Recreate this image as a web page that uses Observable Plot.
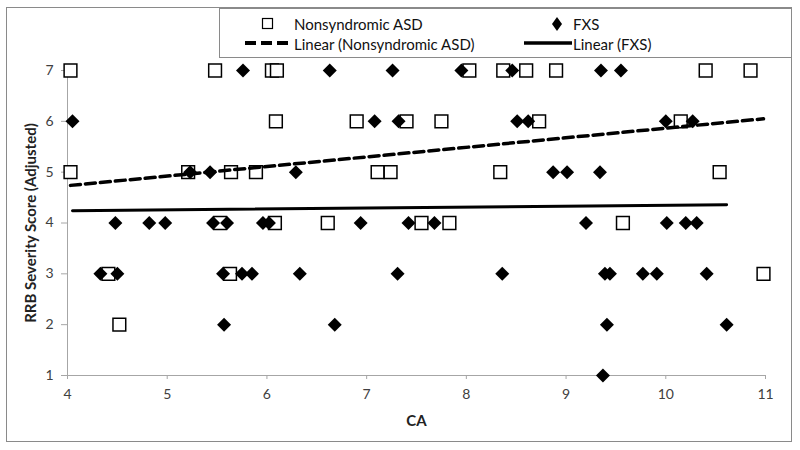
<!DOCTYPE html>
<html>
<head>
<meta charset="utf-8">
<script src="https://cdn.jsdelivr.net/npm/d3@7"></script>
<script src="https://cdn.jsdelivr.net/npm/@observablehq/plot@0.6"></script>
<style>
  html, body { margin: 0; padding: 0; background: #fff; }
  #wrap { position: relative; width: 800px; height: 450px; overflow: hidden; font-family: Lato, "Open Sans", sans-serif; }
  #frame { position: absolute; left: 6px; top: 7px; width: 784px; height: 433px; border: 1.5px solid #8a8a8a; pointer-events: none; }
  #legend { position: absolute; left: 219px; top: 8px; width: 571px; height: 48px; border: 1px solid #8a8a8a; border-right: none; background: #fff; }
  .li { position: absolute; font-size: 15px; color: #111; white-space: nowrap; line-height: 18px; }
  .ic { position: absolute; }
  svg [aria-label="y-axis label"] text, svg [aria-label="x-axis label"] text,
  svg [aria-label="y-axis label"], svg [aria-label="x-axis label"] { font-weight: bold; font-size: 15px; fill: #222; }
</style>
</head>
<body>
<div id="wrap"></div>
<script>
// ---- data ----
const asdCA = [4.03,5.48,6.05,6.10,8.03,8.37,8.60,8.90,10.40,10.85,
               6.09,6.90,7.40,7.75,8.73,10.15,
               4.03,5.21,5.64,5.89,7.11,7.24,8.34,10.54,
               5.53,6.08,6.61,7.55,7.83,9.57,
               4.41,5.63,10.98,
               4.52];
const asdScore = [7,7,7,7,7,7,7,7,7,7,
                  6,6,6,6,6,6,
                  5,5,5,5,5,5,5,5,
                  4,4,4,4,4,4,
                  3,3,3,
                  2];
const fxsCA = [5.76,6.63,7.26,7.95,8.46,9.35,9.55,
               4.05,7.08,7.32,8.51,8.62,10.00,10.27,
               5.23,5.43,6.29,8.87,9.01,9.34,
               4.48,4.82,4.98,5.46,5.60,5.96,6.02,6.94,7.42,7.68,9.20,10.01,10.20,10.31,
               4.33,4.50,5.56,5.75,5.85,6.33,7.31,8.36,9.39,9.44,9.77,9.91,10.41,
               5.57,6.68,9.41,10.61,
               9.37];
const fxsScore = [7,7,7,7,7,7,7,
                  6,6,6,6,6,6,6,
                  5,5,5,5,5,5,
                  4,4,4,4,4,4,4,4,4,4,4,4,4,4,
                  3,3,3,3,3,3,3,3,3,3,3,3,3,
                  2,2,2,2,
                  1];
// trendline endpoints as drawn in the reference
const asdTrendCA = [4.03, 10.98];
const asdTrendScore = [4.74, 6.05];
const fxsTrendCA = [4.05, 10.61];
const fxsTrendScore = [4.24, 4.36];
const xTicks = [4,5,6,7,8,9,10,11];
const yTicks = [1,2,3,4,5,6,7];
const seriesNames = ["Nonsyndromic ASD", "FXS", "Linear (Nonsyndromic ASD)", "Linear (FXS)"];

const asd = asdCA.map((x, i) => ({x, y: asdScore[i]}));
const fxs = fxsCA.map((x, i) => ({x, y: fxsScore[i]}));
const asdT = asdTrendCA.map((x, i) => ({x, y: asdTrendScore[i]}));
const fxsT = fxsTrendCA.map((x, i) => ({x, y: fxsTrendScore[i]}));

const chart = Plot.plot({
  width: 800,
  height: 450,
  marginLeft: 67,
  marginRight: 35,
  marginTop: 70,
  marginBottom: 75,
  style: {fontFamily: "Lato, 'Open Sans', sans-serif", fontSize: "14px", color: "#404040", background: "transparent"},
  x: {domain: [4, 11]},
  y: {domain: [1, 7]},
  marks: [
    Plot.ruleX([4], {stroke: "#a6a6a6", strokeWidth: 1}),
    Plot.ruleY([1], {stroke: "#a6a6a6", strokeWidth: 1}),
    Plot.axisX({ticks: xTicks, tickFormat: "d", tickSize: 4, tickPadding: 10, stroke: "#a6a6a6", fill: "#404040",
                label: "CA", labelAnchor: "center", labelArrow: "none", labelOffset: 50}),
    Plot.axisY({ticks: yTicks, tickFormat: "d", tickSize: 6, tickPadding: 8, stroke: "#a6a6a6", fill: "#404040",
                label: "RRB Severity Score (Adjusted)", labelAnchor: "center", labelArrow: "none", labelOffset: 42}),
    Plot.dot(asd, {x: "x", y: "y", symbol: "square", r: 7.2, fill: "white", stroke: "black", strokeWidth: 1.5}),
    Plot.dot(fxs, {x: "x", y: "y", symbol: "diamond2", r: 6.3, fill: "black", stroke: "none"}),
    Plot.line(asdT, {x: "x", y: "y", stroke: "black", strokeWidth: 3.5, strokeDasharray: "10,5"}),
    Plot.line(fxsT, {x: "x", y: "y", stroke: "black", strokeWidth: 3})
  ]
});

const wrap = document.getElementById("wrap");
wrap.appendChild(chart);
chart.style.position = "absolute";
chart.style.left = "0px";
chart.style.top = "0px";

const frame = document.createElement("div");
frame.id = "frame";
wrap.appendChild(frame);

const legend = document.createElement("div");
legend.id = "legend";
legend.innerHTML = `
  <svg class="ic" style="left:41px;top:8px" width="14" height="14"><rect x="1.5" y="1.5" width="10" height="10" fill="white" stroke="black" stroke-width="1.2"/></svg>
  <div class="li" style="left:74px;top:6px">${seriesNames[0]}</div>
  <svg class="ic" style="left:331px;top:7px" width="12" height="16"><path d="M6,1 L11,8 L6,15 L1,8 Z" fill="black"/></svg>
  <div class="li" style="left:353px;top:6px">${seriesNames[1]}</div>
  <svg class="ic" style="left:25px;top:30px" width="48" height="8"><line x1="0" y1="4" x2="48" y2="4" stroke="black" stroke-width="4" stroke-dasharray="11,5"/></svg>
  <div class="li" style="left:74px;top:26px">${seriesNames[2]}</div>
  <svg class="ic" style="left:304px;top:30px" width="48" height="8"><line x1="0" y1="4" x2="48" y2="4" stroke="black" stroke-width="3.5"/></svg>
  <div class="li" style="left:353px;top:26px">${seriesNames[3]}</div>
`;
wrap.appendChild(legend);
</script>
</body>
</html>
